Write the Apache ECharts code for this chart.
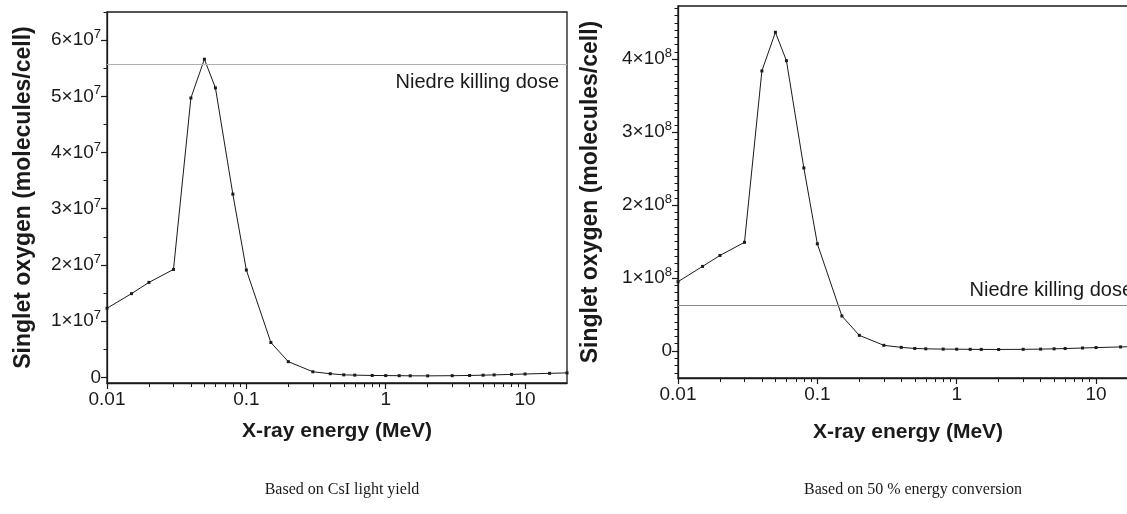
<!DOCTYPE html>
<html>
<head>
<meta charset="utf-8">
<script src="https://cdn.jsdelivr.net/npm/echarts@6/dist/echarts.min.js"></script>
<style>
  html, body { margin: 0; padding: 0; background: #fff; }
  #chart { width: 1127px; height: 514px; }
</style>
</head>
<body>
<div id="chart"></div>
<script>
// X-ray energies (MeV), shared by both panels
const energies = [0.01, 0.015, 0.02, 0.03, 0.04, 0.05, 0.06, 0.08, 0.1, 0.15, 0.2, 0.3, 0.4, 0.5, 0.6, 0.8, 1, 1.25, 1.5, 2, 3, 4, 5, 6, 8, 10, 15, 20];

// left panel: based on CsI light yield
const csiValues = [1.23e7, 1.49e7, 1.69e7, 1.92e7, 4.97e7, 5.66e7, 5.15e7, 3.26e7, 1.91e7, 6.2e6, 2.8e6, 1.0e6, 6.5e5, 4.5e5, 4.0e5, 3.4e5, 3.2e5, 3.0e5, 2.8e5, 2.7e5, 3.0e5, 3.4e5, 3.9e5, 4.4e5, 5.3e5, 6.0e5, 7.2e5, 8.0e5];
const csiKillingDose = 5.57e7;

// right panel: based on 50 % energy conversion
const conversionValues = [0.95e8, 1.16e8, 1.31e8, 1.49e8, 3.84e8, 4.37e8, 3.98e8, 2.51e8, 1.47e8, 4.8e7, 2.15e7, 7.8e6, 5.0e6, 3.5e6, 3.0e6, 2.6e6, 2.5e6, 2.3e6, 2.2e6, 2.1e6, 2.3e6, 2.6e6, 3.0e6, 3.4e6, 4.1e6, 4.7e6, 5.6e6, 6.2e6];
const conversionKillingDose = 6.26e7;

// tick values
const xMajorTicks = [0.01, 0.1, 1, 10];
const xMinorTicks = [0.02, 0.03, 0.04, 0.05, 0.06, 0.07, 0.08, 0.09, 0.2, 0.3, 0.4, 0.5, 0.6, 0.7, 0.8, 0.9, 2, 3, 4, 5, 6, 7, 8, 9];
const csiYTicks = [0, 1e7, 2e7, 3e7, 4e7, 5e7, 6e7];
const csiYMinorTicks = [5e6, 1.5e7, 2.5e7, 3.5e7, 4.5e7, 5.5e7, 6.5e7];
const conversionYTicks = [0, 1e8, 2e8, 3e8, 4e8];
const conversionYMinorTicks = [-3e7, -2e7, -1e7, 1e7, 2e7, 3e7, 4e7, 5e7, 6e7, 7e7, 8e7, 9e7, 1.1e8, 1.2e8, 1.3e8, 1.4e8, 1.5e8, 1.6e8, 1.7e8, 1.8e8, 1.9e8, 2.1e8, 2.2e8, 2.3e8, 2.4e8, 2.5e8, 2.6e8, 2.7e8, 2.8e8, 2.9e8, 3.1e8, 3.2e8, 3.3e8, 3.4e8, 3.5e8, 3.6e8, 3.7e8, 3.8e8, 3.9e8, 4.1e8, 4.2e8, 4.3e8, 4.4e8, 4.5e8, 4.6e8, 4.7e8];

const subtitles = ['Based on CsI light yield', 'Based on 50 % energy conversion'];
const killingDoseLabel = 'Niedre killing dose';
const xName = 'X-ray energy (MeV)';
const yName = 'Singlet oxygen (molecules/cell)';

const FONT = 'Liberation Sans, Arial, sans-serif';
const INK = '#1a1a1a';
const axisLine = { show: true, onZero: false, lineStyle: { color: INK, width: 1.3 } };

// "6×10⁷" style labels
const sciFormatter = (exp) => (v) => {
  if (v === 0) return '{m|0}';
  const m = Math.round(v / Math.pow(10, exp));
  return '{m|' + m + '×10}{s|' + exp + '}';
};
const sciRich = {
  m: { fontSize: 19, fontFamily: FONT, color: INK, lineHeight: 24 },
  s: { fontSize: 13, fontFamily: FONT, color: INK, verticalAlign: 'top', lineHeight: 24 }
};

const chart = echarts.init(document.getElementById('chart'));

// main log axis + a second one only for the 2..9 minor ticks
function xAxes(gridIndex, nameGap) {
  return [
    {
      type: 'log', gridIndex: gridIndex, position: 'bottom', min: 0.01, max: 20, logBase: 10,
      axisLine: axisLine, splitLine: { show: false },
      axisTick: { customValues: xMajorTicks, length: 6, lineStyle: { color: INK, width: 1.2 } },
      axisLabel: { customValues: xMajorTicks, formatter: (v) => String(v), fontSize: 19, fontFamily: FONT, color: INK, margin: 7 },
      name: xName, nameLocation: 'middle', nameGap: nameGap,
      nameTextStyle: { fontSize: 21, fontWeight: 'bold', fontFamily: FONT, color: INK }
    },
    {
      type: 'log', gridIndex: gridIndex, position: 'bottom', min: 0.01, max: 20, logBase: 10,
      axisLine: { show: false, onZero: false }, splitLine: { show: false }, axisLabel: { show: false },
      axisTick: { customValues: xMinorTicks, length: 4, lineStyle: { color: INK, width: 1 } }
    }
  ];
}

function yAxes(gridIndex, min, max, majors, minors, exp, nameGap) {
  return [
    {
      type: 'value', gridIndex: gridIndex, position: 'left', min: min, max: max,
      axisLine: axisLine, splitLine: { show: false },
      axisTick: { customValues: majors, length: 6, lineStyle: { color: INK, width: 1.2 } },
      axisLabel: { customValues: majors, formatter: sciFormatter(exp), rich: sciRich, margin: 6 },
      name: yName, nameLocation: 'middle', nameGap: nameGap,
      nameTextStyle: { fontSize: 23, fontWeight: 'bold', fontFamily: FONT, color: INK }
    },
    {
      type: 'value', gridIndex: gridIndex, position: 'left', min: min, max: max,
      axisLine: { show: false, onZero: false }, splitLine: { show: false }, axisLabel: { show: false },
      axisTick: { customValues: minors, length: 3.5, lineStyle: { color: INK, width: 1 } }
    }
  ];
}

function curve(xIdx, yIdx, values, dose, labelPos, doseColor, labelGap) {
  return {
    type: 'line', xAxisIndex: xIdx, yAxisIndex: yIdx,
    data: energies.map((e, i) => [e, values[i]]),
    symbol: 'rect', symbolSize: 3, showSymbol: true,
    lineStyle: { color: INK, width: 1 }, itemStyle: { color: INK },
    animation: false, z: 3,
    markLine: {
      silent: true, symbol: 'none', animation: false,
      data: [{ yAxis: dose }],
      lineStyle: { color: doseColor, type: 'solid', width: 1 },
      label: { position: labelPos, formatter: killingDoseLabel, fontSize: 20, fontFamily: FONT, color: INK, distance: labelGap }
    }
  };
}

chart.setOption({
  animation: false,
  backgroundColor: '#fff',
  title: [
    { text: subtitles[0], left: 337, top: 477, textAlign: 'center',
      textStyle: { fontSize: 16, fontWeight: 'normal', fontFamily: 'Liberation Serif, serif', color: INK } },
    { text: subtitles[1], left: 908, top: 477, textAlign: 'center',
      textStyle: { fontSize: 16, fontWeight: 'normal', fontFamily: 'Liberation Serif, serif', color: INK } }
  ],
  grid: [
    { left: 107, top: 12, width: 460, height: 371, show: true, borderColor: INK, borderWidth: 1.3, outerBoundsMode: 'none' },
    { left: 678, top: 6, width: 460, height: 372, show: true, borderColor: INK, borderWidth: 1.3, outerBoundsMode: 'none' }
  ],
  xAxis: [...xAxes(0, 38), ...xAxes(1, 44)],
  yAxis: [
    ...yAxes(0, -1e6, 6.5e7, csiYTicks, csiYMinorTicks, 7, 72),
    ...yAxes(1, -3.7e7, 4.73e8, conversionYTicks, conversionYMinorTicks, 8, 76)
  ],
  series: [
    curve(0, 0, csiValues, csiKillingDose, 'insideEndBottom', '#b0b0b0', 8),
    curve(2, 2, conversionValues, conversionKillingDose, 'insideEndTop', '#8a8a8a', 5)
  ]
});
</script>
</body>
</html>
